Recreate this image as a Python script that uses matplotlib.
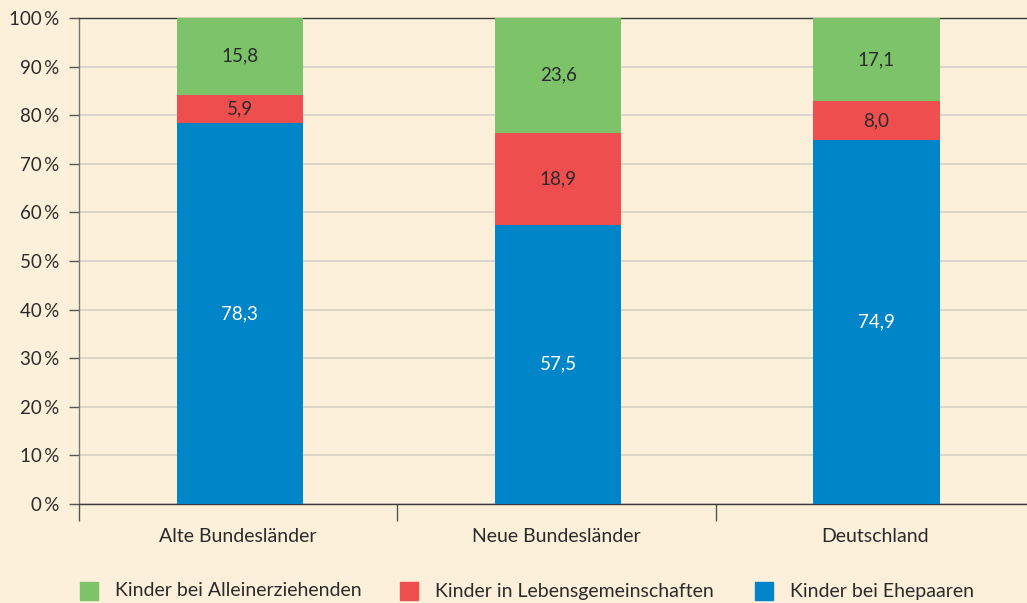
import matplotlib.pyplot as plt
from matplotlib.patches import Rectangle
import numpy as np

plt.rcParams['font.family'] = ['Lato', 'DejaVu Sans']

regions = ["Alte Bundesländer", "Neue Bundesländer", "Deutschland"]
ehepaare = [78.3, 57.5, 74.9]
lebensgem = [5.9, 18.9, 8.0]
allein = [15.8, 23.6, 17.1]

series = [
    ("Kinder bei Ehepaaren", ehepaare, "#0085c8", "white"),
    ("Kinder in Lebensgemeinschaften", lebensgem, "#ef4e4e", "#2b2b2b"),
    ("Kinder bei Alleinerziehenden", allein, "#7cc36a", "#2b2b2b"),
]

bg = "#fdf0da"
fs = 14
fig = plt.figure(figsize=(10.27, 6.03), dpi=100, facecolor=bg)
ax = fig.add_axes([0.0769, 0.1642, 0.930, 0.806], facecolor=bg)

x = np.arange(len(regions))
bottom = np.zeros(len(regions))
for name, vals, col, tcol in series:
    vals = np.array(vals)
    ax.bar(x + 0.005, vals, width=0.396, bottom=bottom, color=col, zorder=3)
    for xi, b, v in zip(x, bottom, vals):
        ax.text(xi + 0.005, b + v / 2, f"{v:.1f}".replace(".", ","), ha="center", va="center",
                color=tcol, fontsize=fs - 0.5, zorder=4)
    bottom += vals

ax.set_xlim(-0.5, 2.5)
ax.set_ylim(0, 100)
ax.set_yticks(range(0, 101, 10))
ax.set_yticklabels([f"{v}\u2009%" for v in range(0, 101, 10)], fontsize=fs - 0.5, color="#2b2b2b")
ax.yaxis.grid(True, color="#d6d0c6", linewidth=1.2, zorder=0)
ax.tick_params(axis="y", length=7, color="#555555", width=1, pad=7)

ax.set_xticks(x)
ax.set_xticklabels(regions, fontsize=fs, color="#2b2b2b")
ax.tick_params(axis="x", which="major", length=0, pad=17)
ax.set_xticks([-0.5, 0.5, 1.5, 2.5], minor=True)
ax.tick_params(axis="x", which="minor", length=12, color="#555555", width=1)

for s in ["top", "bottom", "left"]:
    ax.spines[s].set_color("#3a3a3a")
    ax.spines[s].set_linewidth(1)
ax.spines["right"].set_visible(False)
ax.spines["left"].set_color("#777777")

# legend
leg_items = [series[2], series[1], series[0]]
leg_x = [80, 400, 755]
for (name, vals, col, tcol), lx in zip(leg_items, leg_x):
    fig.add_artist(Rectangle((lx / 1027, 1 - 600 / 603), 18 / 1027, 18 / 603,
                             transform=fig.transFigure, color=col))
    fig.text((lx + 35) / 1027, 1 - 591 / 603, name, fontsize=fs, color="#2b2b2b",
             va="center", ha="left")

fig.savefig("out.png", dpi=100, facecolor=bg)
